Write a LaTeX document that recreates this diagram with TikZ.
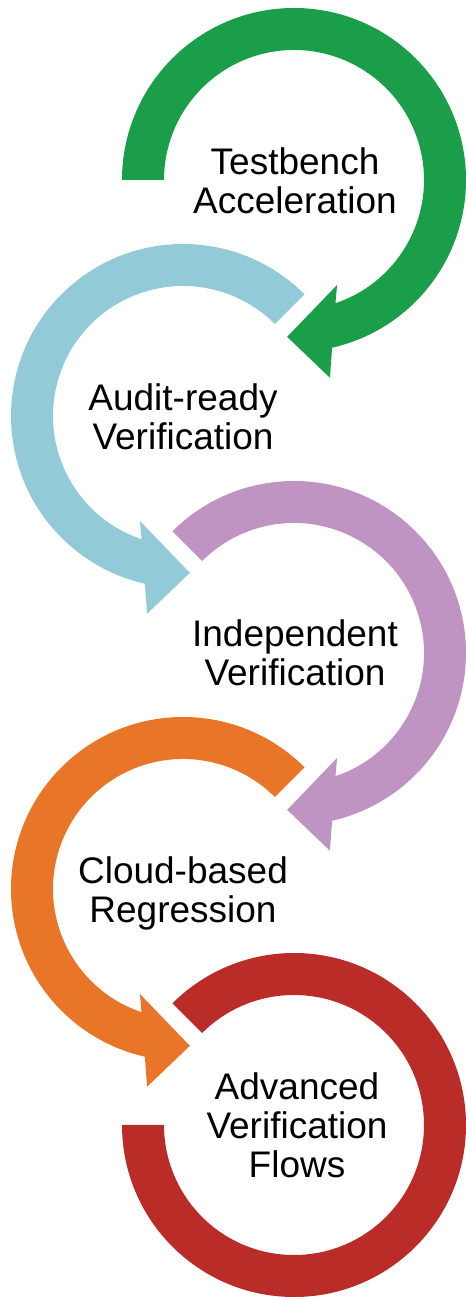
\documentclass[tikz,border=0pt]{standalone}
\usepackage{fontspec}
\setmainfont{Liberation Sans}
\usepackage{tikz}
\usetikzlibrary{positioning}

\definecolor{loopgreen}{RGB}{26,158,74}
\definecolor{loopblue}{RGB}{147,202,216}
\definecolor{looppurple}{RGB}{191,148,194}
\definecolor{looporange}{RGB}{232,117,40}
\definecolor{loopred}{RGB}{185,44,40}

\tikzstyle{looptext} = [align=center, inner sep=0pt, font=\fontsize{37}{39}\selectfont]

\begin{document}
\begin{tikzpicture}[x=1pt,y=1pt]
		\useasboundingbox (0,0) rectangle (466,1299);

		% loop 1
		\begin{scope}[shift={(294,1119)}]
			\fill[loopgreen] (180:172) arc[start angle=180, end angle=-77.2, radius=172]
				-- (-79.7:201) -- (-92.5:157) -- (-67.7:113.5) -- (-71.4:130)
				arc[start angle=-71.4, end angle=180, radius=130] -- cycle;
		\end{scope}

		% loop 2
		\begin{scope}[shift={(183,883)}, xscale=-1]
			\fill[loopblue] (135:172) arc[start angle=135, end angle=-77.2, radius=172]
				-- (-79.7:201) -- (-92.5:157) -- (-67.7:113.5) -- (-71.4:130)
				arc[start angle=-71.4, end angle=135, radius=130] -- cycle;
		\end{scope}

		% loop 3
		\begin{scope}[shift={(294,646)}]
			\fill[looppurple] (135:172) arc[start angle=135, end angle=-77.2, radius=172]
				-- (-79.7:201) -- (-92.5:157) -- (-67.7:113.5) -- (-71.4:130)
				arc[start angle=-71.4, end angle=135, radius=130] -- cycle;
		\end{scope}

		% loop 4
		\begin{scope}[shift={(183,410)}, xscale=-1]
			\fill[looporange] (135:172) arc[start angle=135, end angle=-77.2, radius=172]
				-- (-79.7:201) -- (-92.5:157) -- (-67.7:113.5) -- (-71.4:130)
				arc[start angle=-71.4, end angle=135, radius=130] -- cycle;
		\end{scope}

		% loop 5
		\begin{scope}[shift={(294,174)}]
			\fill[loopred] (180:172) arc[start angle=180, end angle=495, radius=172]
				-- (135:130) arc[start angle=135, end angle=-180, radius=130] -- cycle;
		\end{scope}

		\node[looptext] (accel) at (295,1118) {Testbench\\Acceleration};
		\node[looptext] (audit) at (183,882) {Audit-ready\\Verification};
		\node[looptext] (indep) at (295,646) {Independent\\Verification};
		\node[looptext] (cloud) at (183,406) {Cloud-based\\Regression};
		\node[looptext] (flows) at (297,174) {Advanced\\Verification\\Flows};
	\end{tikzpicture}
\end{document}
